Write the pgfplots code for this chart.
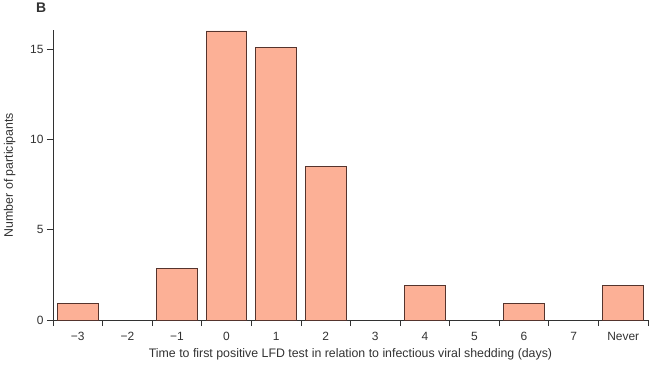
\documentclass[border=0pt]{standalone}
\usepackage{pgfplots}
\pgfplotsset{compat=1.18}
\usepackage{fontspec}
\setmainfont{Liberation Sans}
\definecolor{barfill}{RGB}{252,176,150}
\definecolor{baredge}{RGB}{85,52,45}
\definecolor{txt}{RGB}{50,50,50}
\begin{document}
\begin{tikzpicture}
\path (-53bp,-45bp) rectangle (596bp,320bp);
\begin{axis}[
  at={(0,0)}, anchor=south west,
  scale only axis,
  width=595bp, height=290bp,
  xmin=-0.5, xmax=11.5,
  ymin=0, ymax=16.05,
  axis x line*=bottom, axis y line*=left,
  axis line style={draw=txt, line width=0.8pt, -},
  xtick={0,...,11},
  xticklabels={−3,−2,−1,0,1,2,3,4,5,6,7,Never},
  minor xtick={-0.5,0.5,...,11.5},
  major x tick style={draw=none},
  minor x tick style={draw=txt, line width=0.8pt},
  xtick align=outside,
  minor tick length=6bp,
  ytick={0,5,10,15},
  ytick align=outside,
  major tick length=6bp,
  y tick style={draw=txt, line width=0.8pt},
  tick label style={font=\fontsize{12}{14}\selectfont, text=txt},
  /pgf/number format/assume math mode=true,
  xticklabel style={yshift=-3bp},
  xlabel={Time to first positive LFD test in relation to infectious viral shedding (days)},
  ylabel={Number of participants},
  label style={font=\fontsize{12.4}{14}\selectfont, text=txt},
  xlabel style={yshift=-1bp},
  ylabel style={yshift=8bp},
  bar width=0.82,
  clip=false,
]
\addplot[ybar, fill=barfill, draw=baredge, line width=0.8pt] coordinates {
(0,0.93) (2,2.83) (3,16.0) (4,15.07) (5,8.49) (7,1.89) (9,0.94) (11,1.89)
};
\end{axis}
\node[anchor=north west, font=\bfseries\fontsize{14}{16}\selectfont, text=txt, inner sep=0pt] at (-17bp,317bp) {B};
\end{tikzpicture}
\end{document}
